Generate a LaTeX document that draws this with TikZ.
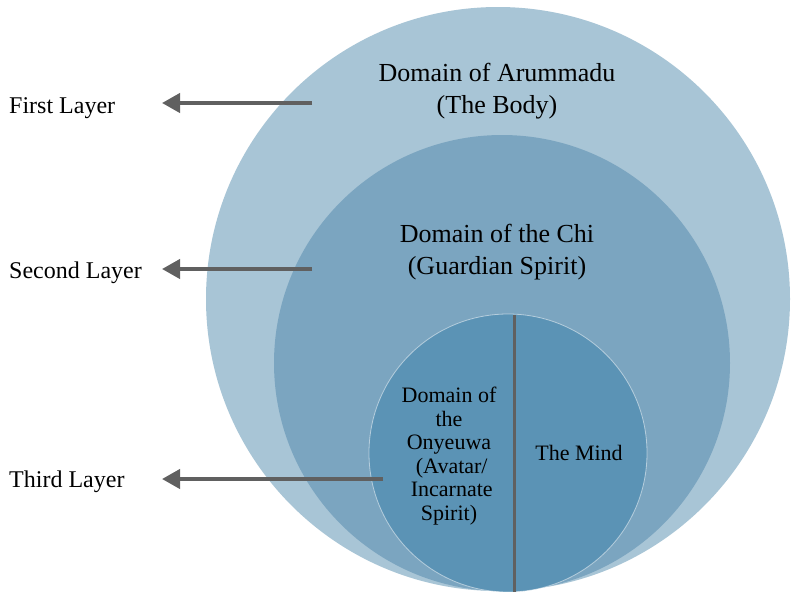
\documentclass[tikz,border=0pt]{standalone}
\usepackage{fontspec}
\setmainfont{Liberation Serif}
\usetikzlibrary{arrows.meta}
\definecolor{outerc}{HTML}{A8C5D6}
\definecolor{midc}{HTML}{7BA5C0}
\definecolor{innerc}{HTML}{5B93B5}
\definecolor{arrc}{HTML}{606060}
\begin{document}
\begin{tikzpicture}[x=1pt,y=-1pt,
  disc/.style={circle, inner sep=0pt, draw=none},
  bigtext/.style={align=center, font=\fontsize{26}{31.5}\selectfont, text=black},
  smalltext/.style={align=center, font=\fontsize{22}{23.5}\selectfont, text=black},
  sidetext/.style={font=\fontsize{24}{28}\selectfont, text=black, inner sep=0pt},
  arr/.style={draw=arrc, line width=4pt, -{Triangle[length=18pt,width=19pt]}},
  divider/.style={draw=arrc, line width=3pt}]
\useasboundingbox (0,0) rectangle (793,592);
\fill[white] (0,0) rectangle (793,592);
\begin{scope}
\clip (0,0) rectangle (793,592);
\node[disc, fill=outerc, minimum size=584pt] (outer) at (498,299) {};
\node[disc, fill=midc, minimum size=456pt] (mid) at (502,363) {};
\node[disc, fill=innerc, minimum size=278pt, draw=white, draw opacity=0.5, line width=0.8pt] (inner) at (508,453) {};
\coordinate (dtop) at (514,315);
\coordinate (dbot) at (514,592);
\draw[divider] (dtop) -- (dbot);
\end{scope}
\node[bigtext] (body) at (497,91) {Domain of Arummadu\\(The Body)};
\node[bigtext] (chi) at (497,252) {Domain of the Chi\\(Guardian Spirit)};
\node[smalltext] (onye) at (449,456) {Domain of\\the\\Onyeuwa\\\ (Avatar/\\\ Incarnate\\Spirit)};
\node[smalltext] (mind) at (579,453) {The Mind};
\node[sidetext, anchor=base west] (l1) at (9,113) {First Layer};
\node[sidetext, anchor=base west] (l2) at (9,278) {Second Layer};
\node[sidetext, anchor=base west] (l3) at (9,487) {Third Layer};
\coordinate (t1) at (312,103);
\coordinate (h1) at (162,103);
\coordinate (t2) at (312,269);
\coordinate (h2) at (162,269);
\coordinate (t3) at (383,479);
\coordinate (h3) at (162,479);
\draw[arr] (t1) -- (h1);
\draw[arr] (t2) -- (h2);
\draw[arr] (t3) -- (h3);
\end{tikzpicture}
\end{document}
